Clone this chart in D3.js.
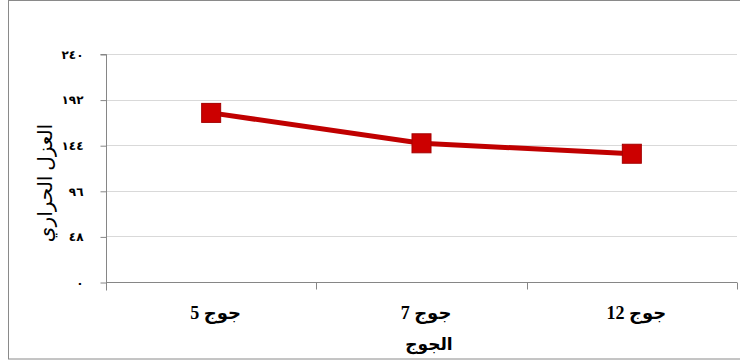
<!DOCTYPE html>
<html>
<head>
<meta charset="utf-8">
<script src="https://cdn.jsdelivr.net/npm/d3@7"></script>
<style>
  html, body { margin: 0; padding: 0; background: #fff; }
  svg { display: block; }
</style>
</head>
<body>
<svg id="chart" width="740" height="361"></svg>
<script>
// ---- data ----
const categories = ["جوج 5", "جوج 7", "جوج 12"];
const values = [178, 146, 135];
const yTickValues = [0, 48, 96, 144, 192, 240];
const yTickLabels = ["٠", "٤٨", "٩٦", "١٤٤", "١٩٢", "٢٤٠"];
const xTitle = "الجوج";
const yTitle = "العزل الحراري";

// ---- layout ----
const svg = d3.select("#chart");
const plotLeft = 106, plotRight = 737, plotTop = 54, plotBottom = 282;

svg.append("rect")
  .attr("x", 8.5).attr("y", 0.5)
  .attr("width", 740).attr("height", 358.5)
  .attr("fill", "#fff").attr("stroke", "#8a8a8a").attr("stroke-width", 1);

const y = d3.scaleLinear().domain([0, 240]).range([plotBottom, plotTop]);
const xBand = d3.scaleBand().domain(categories).range([plotLeft, plotRight]).padding(0);
const xPoint = d3.scalePoint().domain(categories).range([plotLeft, plotRight]).padding(0.5);

const font = "'Liberation Serif', 'DejaVu Sans', serif";

// gridlines
svg.append("g")
  .selectAll("line")
  .data(yTickValues.filter(d => d !== 0))
  .join("line")
  .attr("x1", plotLeft).attr("x2", plotRight)
  .attr("y1", d => Math.round(y(d)) + 0.5).attr("y2", d => Math.round(y(d)) + 0.5)
  .attr("stroke", "#d9d9d9").attr("stroke-width", 1.2);

// y axis
const yAxis = d3.axisLeft(y)
  .tickValues(yTickValues)
  .tickSize(6)
  .tickPadding(17)
  .tickFormat((d, i) => yTickLabels[i]);
const gy = svg.append("g").attr("transform", `translate(${plotLeft + 0.5},0.5)`).call(yAxis);
gy.select(".domain").attr("stroke", "#868686").attr("d", `M-6,${plotTop}H0V${plotBottom + 8}`);
gy.selectAll(".tick line").attr("stroke", "#868686");
gy.selectAll(".tick text")
  .attr("font-family", font).attr("font-size", 12).attr("font-weight", "bold")
  .attr("letter-spacing", 2)
  .attr("fill", "#000");

// x axis
const xAxis = d3.axisBottom(xPoint).tickSize(0).tickPadding(24);
const gx = svg.append("g").attr("transform", `translate(0,${plotBottom + 0.5})`).call(xAxis);
gx.select(".domain").attr("stroke", "#868686").attr("d", `M${plotLeft},0H${plotRight}`);
gx.selectAll(".tick text")
  .attr("font-family", font).attr("font-size", 18).attr("font-weight", "bold")
  .attr("dx", 4)
  .attr("fill", "#000");
// boundary ticks
gx.append("g").selectAll("line")
  .data(categories)
  .join("line")
  .attr("x1", d => Math.round(xBand(d) + xBand.bandwidth()) + 0.5)
  .attr("x2", d => Math.round(xBand(d) + xBand.bandwidth()) + 0.5)
  .attr("y1", 0).attr("y2", 7)
  .attr("stroke", "#868686");

// line
const line = d3.line()
  .x((d, i) => xPoint(categories[i]))
  .y(d => y(d));
svg.append("path")
  .datum(values)
  .attr("d", line)
  .attr("fill", "none")
  .attr("stroke", "#c00000")
  .attr("stroke-width", 5)
  .attr("stroke-linejoin", "round");

// markers
const ms = 19;
svg.append("g").selectAll("rect")
  .data(values)
  .join("rect")
  .attr("x", (d, i) => xPoint(categories[i]) - ms / 2)
  .attr("y", d => y(d) - ms / 2)
  .attr("width", ms).attr("height", ms)
  .attr("fill", "#cc0000")
  .attr("stroke", "#a50000").attr("stroke-width", 1);

// titles
svg.append("text")
  .attr("x", 429).attr("y", 350)
  .attr("text-anchor", "middle")
  .attr("font-family", font).attr("font-size", 17).attr("font-weight", "bold")
  .text(xTitle);

svg.append("text")
  .attr("transform", `translate(52,183) rotate(-90)`)
  .attr("text-anchor", "middle")
  .attr("font-family", font).attr("font-size", 20)
  .text(yTitle);
</script>
</body>
</html>
